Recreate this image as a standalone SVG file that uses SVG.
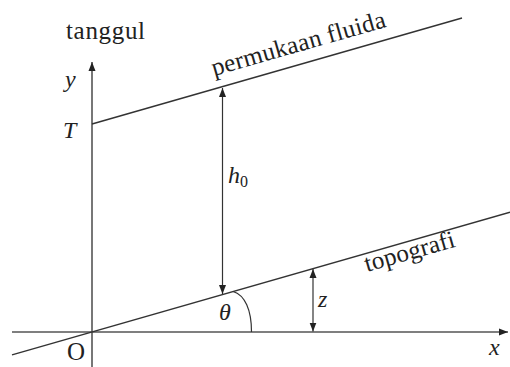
<svg xmlns="http://www.w3.org/2000/svg" width="510" height="367" viewBox="0 0 510 367">
<style>
.ln{stroke:#333;stroke-width:1.4;fill:none}
.ax{stroke:#555;stroke-width:1.6;fill:none}
.dim{stroke:#333;stroke-width:1.2;fill:none}
.t{font-family:'Liberation Serif','Times New Roman',serif;fill:#222;font-size:25px}
.m{font-family:'Liberation Serif','Times New Roman',serif;font-style:italic;fill:#222;font-size:24px}
</style>
<defs>
<marker id="ah" markerUnits="userSpaceOnUse" markerWidth="10" markerHeight="8" refX="9" refY="4" orient="auto-start-reverse" viewBox="0 0 10 8">
<path d="M0,0.5 L9,4 L0,7.5 Z" fill="#222"/>
</marker>
</defs>
<rect width="510" height="367" fill="#fff"/>
<g id="connectors">
<path id="x-axis" class="ax" d="M12,332 H508" marker-end="url(#ah)"/>
<path id="y-axis" class="ax" d="M92,367 V62" marker-end="url(#ah)"/>
<path id="topografi-line" class="ln" d="M12,354.9 L510,212.2"/>
<path id="fluid-line" class="ln" d="M92,124 L462,18"/>
<path id="h0-arrow" class="dim" d="M222.5,88 V294" marker-start="url(#ah)" marker-end="url(#ah)"/>
<path id="z-arrow" class="dim" d="M313,269 V331.5" marker-start="url(#ah)" marker-end="url(#ah)"/>
<path id="theta-arc" class="dim" d="M233,291.5 C245,295 251.5,310 251.5,332"/>
</g>
<g id="label-tanggul"><text class="t" x="66" y="39" textLength="79">tanggul</text></g>
<g id="label-y"><text class="m" x="65" y="87">y</text></g>
<g id="label-T"><text class="m" x="63" y="138">T</text></g>
<g id="label-fluida"><text class="t" transform="translate(214,76) rotate(-15.9)" x="0" y="0" textLength="180">permukaan fluida</text></g>
<g id="label-h0"><text class="m" x="228" y="183">h<tspan font-style="normal" font-size="16" dy="4">0</tspan></text></g>
<g id="label-theta"><text class="m" x="219" y="320">θ</text></g>
<g id="label-z"><text class="m" x="318" y="307">z</text></g>
<g id="label-topografi"><text class="t" transform="translate(367,272) rotate(-15.9)" x="0" y="0" textLength="93">topografi</text></g>
<g id="label-O"><text class="t" x="67" y="360" font-size="24">O</text></g>
<g id="label-x"><text class="m" x="489" y="355">x</text></g>
</svg>
